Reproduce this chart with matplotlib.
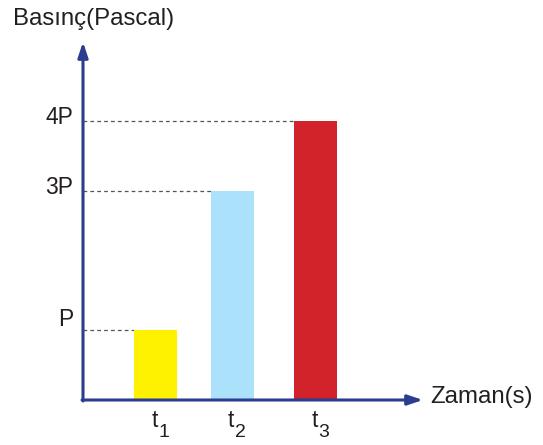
import matplotlib
matplotlib.use("Agg")
import matplotlib.pyplot as plt

# data
labels = ["1", "2", "3"]
values = [1, 3, 4]
tick_names = ["P", "3P", "4P"]
colors = ["#fff200", "#abe1fa", "#d2232a"]
xpos = [7.25, 14.95, 23.25]   # bar centres (units of 10 px from origin)
width = 4.3

plt.rcParams['font.family'] = ['Liberation Sans', 'DejaVu Sans']

axis_col = "#2b3d8f"
txt_col = "#231f20"
unit = 69.7  # px per P

fig = plt.figure(figsize=(5.43, 4.45), dpi=100)
ax = fig.add_axes([0, 0, 1, 1])
ax.set_xlim(-8.3, (543 - 83) / 10)
ax.set_ylim(-(445 - 400) / unit, 400 / unit)
ax.axis("off")

ax.bar(xpos, values, width=width, color=colors, zorder=2)

# dashed guide lines
for x, v in zip(xpos, values):
    ax.plot([0, x - width / 2], [v, v], ls=(0, (3, 2.5)), color="#555555", lw=0.9, zorder=1)

for v, name in zip(values, tick_names):
    off = 0.15 if name == "P" else 0.05
    ax.text(-1.0, v + off, name, ha="right", va="center", fontsize=16.5, color=txt_col)

# t with subscript, drawn as two texts
for x, l in zip(xpos, labels):
    ax.text(x + 0.2, -27 / unit, "t", ha="right", va="baseline", fontsize=16.5, color=txt_col)
    ax.text(x + 0.3, -37 / unit, l, ha="left", va="baseline", fontsize=14, color=txt_col)

# axes with arrows
ax.annotate("", xy=(0, (400 - 42) / unit), xytext=(0, -0.015),
            arrowprops=dict(arrowstyle="-|>,head_length=0.9,head_width=0.3",
                            color=axis_col, lw=2.2, shrinkA=0, shrinkB=0), zorder=3)
ax.annotate("", xy=(34.0, 0), xytext=(-0.1, 0),
            arrowprops=dict(arrowstyle="-|>,head_length=0.9,head_width=0.3",
                            color=axis_col, lw=2.2, shrinkA=0, shrinkB=0), zorder=3)

ax.text(-7.0, 400 / unit - 0.27, "Basınç(Pascal)", ha="left", va="center",
        fontsize=17.3, color=txt_col)
ax.text(34.7, 0.04, "Zaman(s)", ha="left", va="center", fontsize=17.3, color=txt_col)

fig.savefig("out.png", dpi=100)
